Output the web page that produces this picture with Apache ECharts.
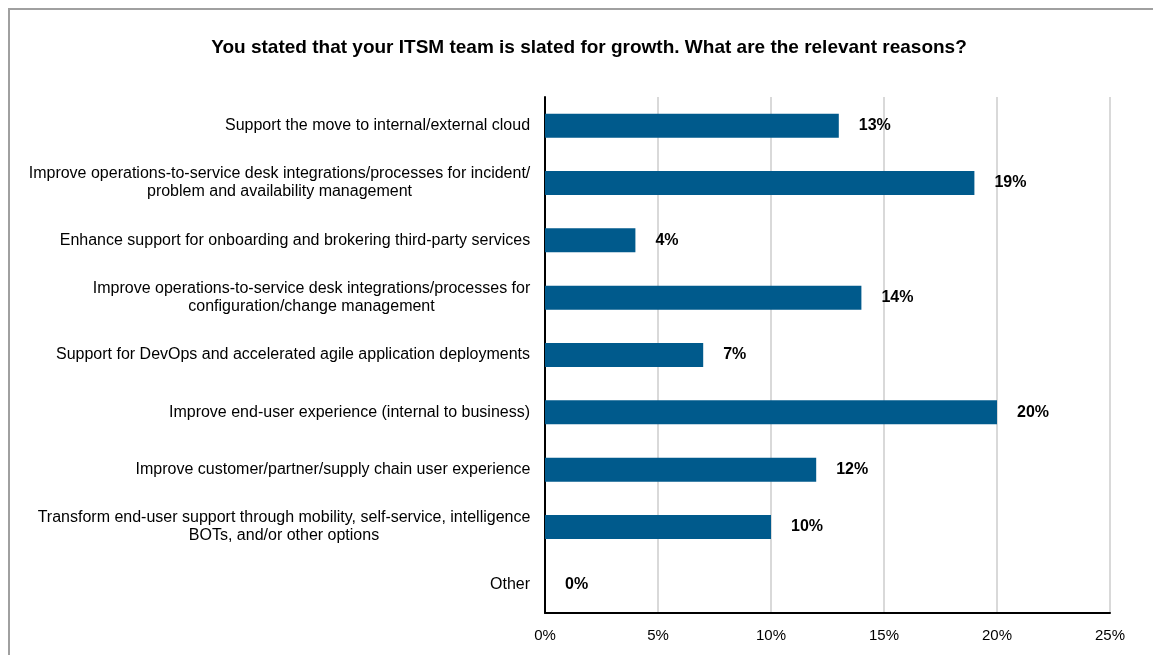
<!DOCTYPE html>
<html>
<head>
<meta charset="utf-8">
<script src="https://cdn.jsdelivr.net/npm/echarts@6/dist/echarts.min.js"></script>
<style>
html,body{margin:0;padding:0;background:#fff;}
#chart{width:1153px;height:655px;}
</style>
</head>
<body>
<div id="chart"></div>
<script>
var titleText = 'You stated that your ITSM team is slated for growth. What are the relevant reasons?';
var categories = [
  'Support the move to internal/external cloud',
  'Improve operations-to-service desk integrations/processes for incident/\nproblem and availability management',
  'Enhance support for onboarding and brokering third-party services',
  'Improve operations-to-service desk integrations/processes for\nconfiguration/change management',
  'Support for DevOps and accelerated agile application deployments',
  'Improve end-user experience (internal to business)',
  'Improve customer/partner/supply chain user experience',
  'Transform end-user support through mobility, self-service, intelligence\nBOTs, and/or other options',
  'Other'
];
var values = [13, 19, 4, 14, 7, 20, 12, 10, 0];
var tickLabels = ['0%', '5%', '10%', '15%', '20%', '25%'];

var FONT = '"Liberation Sans", Arial, sans-serif';
var LABEL_SIZE = 16;
var ctx = document.createElement('canvas').getContext('2d');
ctx.font = LABEL_SIZE + 'px ' + FONT;
var rich = {};
categories.forEach(function (c, i) {
  var lines = c.split('\n');
  var w = 0;
  lines.forEach(function (l) { w = Math.max(w, ctx.measureText(l).width); });
  rich['l' + i] = { width: Math.ceil(w) + 1, align: 'center', fontSize: LABEL_SIZE, lineHeight: 18, color: '#000', fontFamily: FONT };
});

var chart = echarts.init(document.getElementById('chart'), null, { renderer: 'canvas' });
chart.setOption({
  backgroundColor: '#fff',
  animation: false,
  title: {
    text: titleText,
    left: 584, top: 33, textAlign: 'center',
    textStyle: { fontSize: 19, fontWeight: 'bold', color: '#000', fontFamily: FONT }
  },
  graphic: [{
    type: 'rect', shape: { x: 9, y: 9, width: 1300, height: 800 },
    style: { fill: 'none', stroke: '#a0a0a0', lineWidth: 2 }, z: -10
  }],
  grid: { left: 545, right: 43, top: 97, bottom: 42 },
  xAxis: {
    type: 'value', min: 0, max: 25, interval: 5,
    axisLine: { show: true, lineStyle: { color: '#000', width: 2 } },
    axisTick: { show: false },
    axisLabel: {
      margin: 15, fontSize: 15, color: '#000', fontFamily: FONT,
      formatter: function (v) { return tickLabels[Math.round(v / 5)]; }
    },
    splitLine: { show: true, lineStyle: { color: '#d9d9d9', width: 2 } }
  },
  yAxis: {
    type: 'category', data: categories, inverse: true,
    axisLine: { show: true, lineStyle: { color: '#000', width: 2 } },
    axisTick: { show: false },
    axisLabel: {
      margin: 14, fontSize: LABEL_SIZE, color: '#000', fontFamily: FONT, lineHeight: 18,
      formatter: function (v, i) {
        return v.split('\n').map(function (l) { return '{l' + i + '|' + l + '}'; }).join('\n');
      },
      rich: rich
    }
  },
  series: [{
    type: 'bar', data: values, barWidth: 24,
    itemStyle: { color: '#005a8c' },
    label: {
      show: true, position: 'right', distance: 20,
      formatter: '{c}%', fontSize: 16, fontWeight: 'bold', color: '#000', fontFamily: FONT
    }
  }]
});
</script>
</body>
</html>
